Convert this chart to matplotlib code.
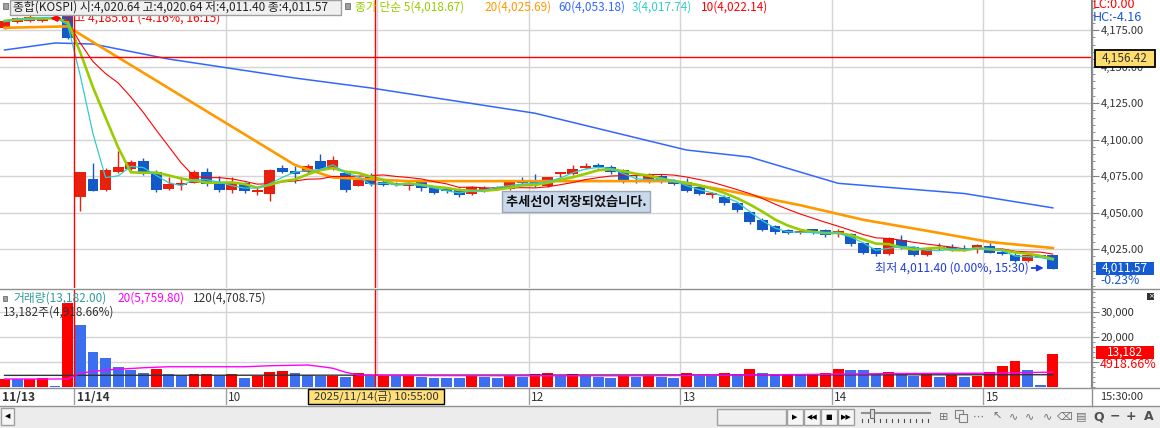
import matplotlib
matplotlib.use("Agg")
import matplotlib.pyplot as plt
import numpy as np
import pandas as pd
from matplotlib.lines import Line2D
from matplotlib.patches import Rectangle
from matplotlib.ticker import FixedLocator, MultipleLocator, FuncFormatter

plt.rcParams['font.family'] = ['Noto Sans CJK KR', 'DejaVu Sans']

# ---------------- data ----------------
# idx -6..-1 : last bars of 11/13, idx 0..77 : 11/14 five-minute bars (15:25 missing)
bar_idx = list(range(-6, 78))

opens = [
    4176.4, 4180.5, 4181.2, 4181.2, 4183.0, 4185.6,
    4060.6, 4073.0, 4065.4, 4077.7, 4080.0, 4085.3, 4077.7, 4066.1, 4069.0, 4070.2,
    4077.7, 4071.0, 4065.4, 4070.2, 4064.0, 4062.7, 4080.5, 4078.4, 4077.7, 4085.5,
    4080.0, 4077.0, 4068.5, 4074.5, 4071.0, 4070.0, 4068.2, 4070.9, 4067.5, 4066.1,
    4065.4, 4062.7, 4065.4, 4066.1, 4066.1, 4071.6, 4072.3, 4068.2, 4076.4, 4076.4,
    4080.5, 4082.5, 4081.2, 4079.1, 4072.3, 4070.9, 4075.0, 4071.6, 4070.9, 4067.5,
    4062.0, 4060.6, 4056.5, 4050.3, 4045.0, 4040.5, 4038.0, 4036.3, 4038.4, 4037.7,
    4036.3, 4035.3, 4029.1, 4025.7, 4021.6, 4031.2, 4026.4, 4020.9, 4026.4, 4026.4,
    4025.7, 4025.0, 4027.0, 4023.0, 4020.9, 4016.8, 4020.0, 4020.64]
highs = [
    4182.0, 4184.0, 4187.3, 4184.0, 4184.0, 4185.61,
    4078.0, 4084.0, 4080.5, 4092.0, 4086.0, 4087.5, 4079.0, 4074.0, 4074.0, 4079.0,
    4080.5, 4075.0, 4074.0, 4071.0, 4067.0, 4079.8, 4082.5, 4082.0, 4083.0, 4090.0,
    4089.0, 4078.0, 4074.0, 4077.0, 4073.0, 4071.0, 4070.9, 4071.6, 4068.2, 4067.5,
    4066.8, 4068.2, 4068.2, 4068.2, 4072.3, 4074.3, 4076.4, 4074.3, 4077.7, 4082.5,
    4083.9, 4083.9, 4082.5, 4079.8, 4077.0, 4077.0, 4076.4, 4073.0, 4073.6, 4068.2,
    4064.0, 4062.0, 4057.2, 4051.0, 4046.0, 4041.5, 4039.0, 4038.4, 4039.0, 4038.4,
    4038.4, 4036.3, 4029.8, 4025.7, 4033.2, 4034.6, 4027.0, 4025.7, 4029.1, 4028.4,
    4027.7, 4028.4, 4029.1, 4024.3, 4022.3, 4020.9, 4020.0, 4020.64]
lows = [
    4175.7, 4180.0, 4180.5, 4180.5, 4182.5, 4169.0,
    4051.0, 4064.5, 4065.0, 4077.0, 4079.0, 4076.0, 4064.0, 4065.4, 4065.4, 4070.0,
    4068.0, 4064.0, 4063.5, 4063.5, 4062.0, 4058.0, 4077.0, 4070.0, 4077.0, 4079.0,
    4079.0, 4064.0, 4068.0, 4068.0, 4068.5, 4068.5, 4065.4, 4064.7, 4062.7, 4063.4,
    4060.6, 4062.0, 4064.0, 4065.4, 4065.4, 4068.8, 4067.5, 4067.5, 4074.3, 4075.7,
    4079.8, 4080.5, 4076.4, 4070.2, 4070.2, 4070.2, 4070.2, 4068.8, 4064.0, 4062.0,
    4060.0, 4055.1, 4050.3, 4042.0, 4037.0, 4035.5, 4035.0, 4035.5, 4035.0, 4033.5,
    4033.5, 4027.0, 4021.6, 4020.2, 4020.9, 4025.0, 4020.2, 4020.2, 4024.3, 4023.6,
    4023.6, 4022.3, 4022.3, 4020.9, 4016.1, 4016.1, 4019.5, 4011.40]
closes = [
    4181.2, 4183.2, 4183.9, 4183.2, 4183.5, 4169.5,
    4077.7, 4065.0, 4079.1, 4081.2, 4084.6, 4076.4, 4065.4, 4069.5, 4070.2, 4077.7,
    4069.5, 4065.4, 4070.2, 4064.7, 4065.4, 4079.1, 4077.7, 4076.4, 4082.0, 4080.0,
    4086.0, 4065.5, 4072.0, 4069.5, 4069.0, 4069.0, 4070.2, 4066.8, 4063.4, 4064.7,
    4062.0, 4067.5, 4066.8, 4067.5, 4070.9, 4070.2, 4068.8, 4074.3, 4077.7, 4079.8,
    4081.8, 4081.2, 4077.7, 4070.9, 4070.9, 4075.7, 4070.9, 4069.5, 4064.7, 4062.7,
    4063.4, 4056.5, 4051.7, 4043.5, 4038.0, 4036.5, 4036.0, 4036.9, 4036.0, 4034.3,
    4036.9, 4028.4, 4022.3, 4021.6, 4032.5, 4025.7, 4020.9, 4025.7, 4025.0, 4024.3,
    4025.0, 4027.7, 4022.3, 4021.6, 4016.8, 4020.9, 4019.8, 4011.57]
volumes = [
    3200, 3070, 3150, 3600, 150, 33500,
    24800, 14000, 11300, 8000, 6800, 5600, 7070, 5070, 4530, 5070,
    5200, 4530, 5070, 3600, 4130, 6000, 6400, 5600, 4530, 4130,
    4300, 3730, 5470, 4130, 4670, 4200, 4400, 3800, 3500, 3400,
    3300, 4500, 3900, 3600, 4800, 4000, 5000, 5300, 4200, 4900,
    4100, 3800, 3500, 4600, 3900, 4400, 3700, 3500, 5600, 4800,
    4200, 5300, 4900, 7200, 5600, 4600, 5200, 4700, 5000, 5400,
    7000, 6800, 6500, 5200, 6000, 4900, 4300, 5000, 3730, 4800,
    3730, 4400, 5700, 8100, 10400, 6800, 500, 13182]

# longer moving averages (bar index, value)
ma20_idx = [-6, -1, 0, 17, 20, 26, 47, 51, 57, 62, 68, 72, 77]
ma20_val = [4176.5, 4177.5, 4172.0, 4082.5, 4074.0, 4071.5, 4071.5, 4065.4, 4055.0, 4045.0, 4036.0, 4029.8, 4025.69]
ma60_idx = [-6, -2, 1, 7, 17, 23, 36, 48, 53, 57, 60, 65, 70, 77]
ma60_val = [4161.3, 4166.1, 4165.4, 4155.1, 4142.1, 4135.3, 4118.0, 4092.8, 4088.0, 4077.7, 4070.0, 4066.5, 4063.0, 4053.18]
vma20_idx = [-6, -1, 0, 2, 5, 7, 13, 15, 18, 19, 20, 21, 22, 25, 35, 45, 55, 65, 72, 77]
vma20_val = [3000, 3000, 5400, 6600, 7500, 7900, 7900, 8300, 8600, 8000, 7300, 5700, 4600, 4400, 4300, 4300, 4700, 5200, 5300, 5759.8]
vma120_idx = [-6, 77]
vma120_val = [4450, 4708.75]

hour_idx = [0, 12, 24, 36, 48, 60, 72]
date_labels = ['11/14', '10', '', '12', '13', '14', '15']   # '11' sits under the tooltip
crosshair_idx = 23.83
crosshair_price = 4156.42

# ---------------- layout helpers (pixel coords, origin top-left) ----------------
W, H = 1160, 428
fig = plt.figure(figsize=(W / 100, H / 100), dpi=100)


def rect(x0, y0, x1, y1):
    return [x0 / W, 1 - y1 / H, (x1 - x0) / W, (y1 - y0) / H]


def ftext(x, y, s, **kw):
    kw.setdefault('va', 'center')
    kw.setdefault('ha', 'left')
    kw.setdefault('fontsize', 8.5)
    return fig.text(x / W, 1 - y / H, s, **kw)


def fbox(x0, y0, x1, y1, fc, ec='none', lw=1, z=5):
    fig.add_artist(Rectangle((x0 / W, 1 - y1 / H), (x1 - x0) / W, (y1 - y0) / H,
                             transform=fig.transFigure, fc=fc, ec=ec, lw=lw, zorder=z))


def fline(x0, y0, x1, y1, color='#a0a0a0', lw=1, z=5, ls='-'):
    fig.add_artist(Line2D([x0 / W, x1 / W], [1 - y0 / H, 1 - y1 / H], transform=fig.transFigure,
                          color=color, lw=lw, zorder=z, ls=ls))


X0_PX, BAR_PX, RIGHT_PX = 74, 12.63, 1091
xlim = (-X0_PX / BAR_PX, (RIGHT_PX - X0_PX) / BAR_PX)

x = np.array(bar_idx) + 0.5
o = np.array(opens); c = np.array(closes); hi = np.array(highs); lo = np.array(lows)
UP, DOWN = '#e8200e', '#1459c8'
ccol = [UP if cc >= oo else DOWN for oo, cc in zip(o, c)]

# ---------------- price panel ----------------
ax = fig.add_axes(rect(0, 0, RIGHT_PX, 288))
ax.set_xlim(*xlim)
ax.set_ylim(3998.3, 4195.55)
for k in hour_idx[1:]:
    ax.axvline(k, color='#d4d4d4', lw=1, zorder=0)
ax.grid(axis='y', color='#d4d4d4', lw=1, zorder=0)

ax.vlines(x, lo, hi, colors=ccol, lw=1, zorder=2)
ax.bar(x, np.maximum(np.abs(c - o), 1.0), bottom=np.minimum(o, c), width=0.86, color=ccol, zorder=2)

cs = pd.Series(closes)
ax.plot(np.array(ma60_idx) + 0.5, ma60_val, color='#3366ff', lw=1.1, zorder=3)
ax.plot(np.array(ma20_idx) + 0.5, ma20_val, color='#ff9900', lw=1.9, zorder=3)
ax.plot(x, cs.rolling(10, min_periods=1).mean(), color='#ff0000', lw=0.8, zorder=3)
ax.plot(x, cs.rolling(5, min_periods=1).mean(), color='#99cc00', lw=1.9, zorder=3)
ax.plot(x, cs.rolling(3, min_periods=1).mean(), color='#33cccc', lw=0.9, zorder=3)

ax.axvline(0, color='#ff0000', lw=1, zorder=4)
ax.axvline(crosshair_idx, color='#ff0000', lw=1, zorder=4)
ax.axhline(crosshair_price, color='#ff0000', lw=1, zorder=4)

ax.yaxis.tick_right()
ax.yaxis.set_major_locator(FixedLocator(np.arange(4025, 4176, 25)))
ax.yaxis.set_minor_locator(MultipleLocator(5))
ax.yaxis.set_major_formatter(FuncFormatter(lambda v, p: f"{v:,.2f}"))
ax.tick_params(axis='y', which='major', length=6, color='#808080', labelsize=8, pad=1, labelcolor='#333333')
ax.tick_params(axis='y', which='minor', length=3, color='#808080')
ax.set_xticks([])
for s in ['top', 'left', 'bottom']:
    ax.spines[s].set_visible(False)
ax.spines['right'].set_color('#808080')

# high / low markers
ax.annotate('', xy=(-2.1, 4183.0), xytext=(-0.9, 4183.0),
            arrowprops=dict(arrowstyle='-|>', color='#ff0000', lw=1.5, mutation_scale=9), zorder=5)
ax.text(-0.85, 4183.0, '최고 4,185.61 (-4.16%, 16:15)', color='#ff0000', fontsize=8.7, va='center', zorder=5)
ax.text(63.4, 4012.0, '최저 4,011.40 (0.00%, 15:30)', color='#1f3fd8', fontsize=8.7,
        va='center', ha='left', zorder=5)
ax.annotate('', xy=(77.0, 4012.0), xytext=(75.6, 4012.0),
            arrowprops=dict(arrowstyle='-|>', color='#1f3fd8', lw=1.3, mutation_scale=9), zorder=5)

# ---------------- volume panel ----------------
axv = fig.add_axes(rect(0, 289, RIGHT_PX, 387))
axv.set_xlim(*xlim)
axv.set_ylim(-200, 39000)
for k in hour_idx[1:]:
    axv.axvline(k, color='#d4d4d4', lw=1, zorder=0)
axv.grid(axis='y', color='#d4d4d4', lw=1, zorder=0)
vol = np.array(volumes)
vcol = ['#ff0000'] + ['#ff0000' if vol[i] >= vol[i - 1] else '#3b6ff0' for i in range(1, len(vol))]
axv.bar(x, vol, width=0.86, color=vcol, zorder=2)
axv.plot(np.array(vma120_idx) + 0.5, vma120_val, color='#333333', lw=1, zorder=3)
axv.plot(np.array(vma20_idx) + 0.5, vma20_val, color='#ff00ff', lw=1, zorder=3)
axv.axvline(0, color='#ff0000', lw=1, zorder=4)
axv.axvline(crosshair_idx, color='#ff0000', lw=1, zorder=4)
axv.yaxis.tick_right()
axv.yaxis.set_major_locator(FixedLocator([10000, 20000, 30000]))
axv.yaxis.set_minor_locator(MultipleLocator(2000))
axv.yaxis.set_major_formatter(FuncFormatter(lambda v, p: f"{v:,.0f}" if v >= 20000 else ''))
axv.tick_params(axis='y', which='major', length=6, color='#808080', labelsize=8, pad=1, labelcolor='#333333')
axv.tick_params(axis='y', which='minor', length=3, color='#808080')
axv.set_xticks([])
for s in ['top', 'left', 'bottom']:
    axv.spines[s].set_visible(False)
axv.spines['right'].set_color('#808080')

# ---------------- date strip ----------------
axd = fig.add_axes(rect(0, 388, RIGHT_PX, 405))
axd.set_xlim(*xlim)
axd.set_ylim(0, 1)
axd.axis('off')
axd.text(xlim[0] + 0.12, 0.45, '11/13', fontsize=8.7, fontweight='bold', color='#333333', va='center')
for k, lab in zip(hour_idx, date_labels):
    axd.axvline(k, color='#a0a0a0', lw=1)
    if lab:
        axd.text(k + 0.2, 0.45, lab, fontsize=8.5, color='#333333', va='center',
                 fontweight='bold' if '/' in lab else 'normal')

# ---------------- frame lines ----------------
fline(0, 288.5, W, 288.5, color='#909090')
fline(0, 387.5, W, 387.5, color='#909090')
fline(0, 405.5, W, 405.5, color='#909090')
fline(1091.5, 0, 1091.5, 405.5, color='#909090')

# ---------------- header texts ----------------
fbox(2.5, 3, 7.5, 9, '#a0a0a0', '#707070', 0.6)
fbox(9.5, 0, 341, 15, '#f0f0f0', '#a0a0a0', 1, z=4)
ftext(13, 7, '종합(KOSPI) 시:4,020.64 고:4,020.64 저:4,011.40 종:4,011.57', color='#222222', zorder=6)
fbox(345, 3, 350, 9, '#a0a0a0', '#707070', 0.6)
ftext(355, 7, '종가 단순 5(4,018.67)', color='#99cc00', zorder=6)
ftext(484, 7, '20(4,025.69)', color='#ff9900', zorder=6)
ftext(558, 7, '60(4,053.18)', color='#3366ff', zorder=6)
ftext(632, 7, '3(4,017.74)', color='#33cccc', zorder=6)
ftext(701, 7, '10(4,022.14)', color='#ff0000', zorder=6)

fbox(3, 296, 7, 301, '#a0a0a0', '#707070', 0.6)
ftext(13, 298, '거래량(13,182.00)', color='#2f9a9a', zorder=6)
ftext(117, 298, '20(5,759.80)', color='#ff00ff', zorder=6)
ftext(193, 298, '120(4,708.75)', color='#333333', zorder=6)
ftext(3, 312, '13,182주(4,918.66%)', color='#333333', zorder=6)

# trend-line message
fbox(502, 191, 650, 212, '#c9d8ea', '#9aa6b4', 1)
ftext(576, 201.5, '추세선이 저장되었습니다.', ha='center', fontsize=9.5, fontweight='bold', color='#111111', zorder=6)

# ---------------- right side labels ----------------
ftext(1093, 5, 'LC:0.00', color='#ff0000', fontsize=9, zorder=6)
ftext(1093, 17.5, 'HC:-4.16', color='#1a56d6', fontsize=9, zorder=6)
fbox(1095, 50, 1155, 67, '#ffde6e', '#000000', 1.3)
ftext(1125, 58.5, '4,156.42', ha='center', color='#333333', fontsize=8.5, zorder=6)
fbox(1096, 262, 1154, 275, '#145ad2')
ftext(1125, 268.5, '4,011.57', ha='center', color='white', fontsize=8.5, zorder=6)
ftext(1100, 280.5, '-0.23%', color='#1a56d6', fontsize=8.8, zorder=6)
fbox(1096, 346, 1154, 359, '#ff0000')
ftext(1125, 352.5, '13,182', ha='center', color='white', fontsize=8.5, zorder=6)
ftext(1100, 365, '4918.66%', color='#ff0000', fontsize=9, zorder=6)
fbox(1147, 293, 1154, 300, '#333333')
ftext(1150.5, 296.5, '×', ha='center', color='white', fontsize=5, family=['DejaVu Sans'], zorder=6)
ftext(1100, 396.5, '15:30:00', color='#333333', fontsize=8, zorder=6)

# crosshair time tooltip
fbox(308, 389, 444, 404, '#ffe07a', '#000000', 1, z=6)
ftext(376, 396.5, '2025/11/14(금) 10:55:00', ha='center', color='#333333', fontsize=8.2, zorder=7)

# ---------------- toolbar ----------------
fbox(0, 406, W, H, '#ececec', z=3)
fbox(1, 407.5, 14, 425, '#f6f6f6', '#a0a0a0', 1)
ftext(7.5, 416, '◀', ha='center', fontsize=5, color='#000000', family=['DejaVu Sans'], zorder=6)
fbox(717, 409, 786, 425, '#f0f0f0', '#a0a0a0', 1)
for bx, glyph in zip([787, 804, 821, 838], ['▶', '◀◀', '■', '▶▶']):
    fbox(bx, 409, bx + 16, 425, '#f6f6f6', '#a0a0a0', 1)
    ftext(bx + 8, 417, glyph, ha='center', fontsize=5, color='#000000', family=['DejaVu Sans'], zorder=6)
fline(862, 413, 930, 413, color='#909090', lw=1.5, z=6)
fbox(870, 409, 874, 418, '#e0e0e0', '#707070', 0.8, z=7)
for tx in range(862, 931, 6):
    fline(tx, 419, tx, 422, color='#505050', lw=0.8, z=6)
# two overlapping windows icon
fbox(955, 410, 963, 418, '#ececec', '#808080', 0.8, z=6)
fbox(959, 414, 967, 422, '#ececec', '#808080', 0.8, z=7)
for ix, glyph in zip([944, 978, 997, 1014, 1030, 1047, 1065, 1081],
                     ['⊞', '⋯', '↖', '∿', '∿', '∿', '⌫', '▤']):
    ftext(ix, 416.5, glyph, ha='center', fontsize=8, color='#707070', family=['DejaVu Sans'], zorder=6)
for ix, glyph in zip([1099, 1115, 1131, 1149], ['Q', '−', '+', 'A']):
    ftext(ix, 416.5, glyph, ha='center', fontsize=9, fontweight='bold', color='#505050',
          family=['DejaVu Sans'], zorder=6)

fig.savefig('out.png', dpi=100)
